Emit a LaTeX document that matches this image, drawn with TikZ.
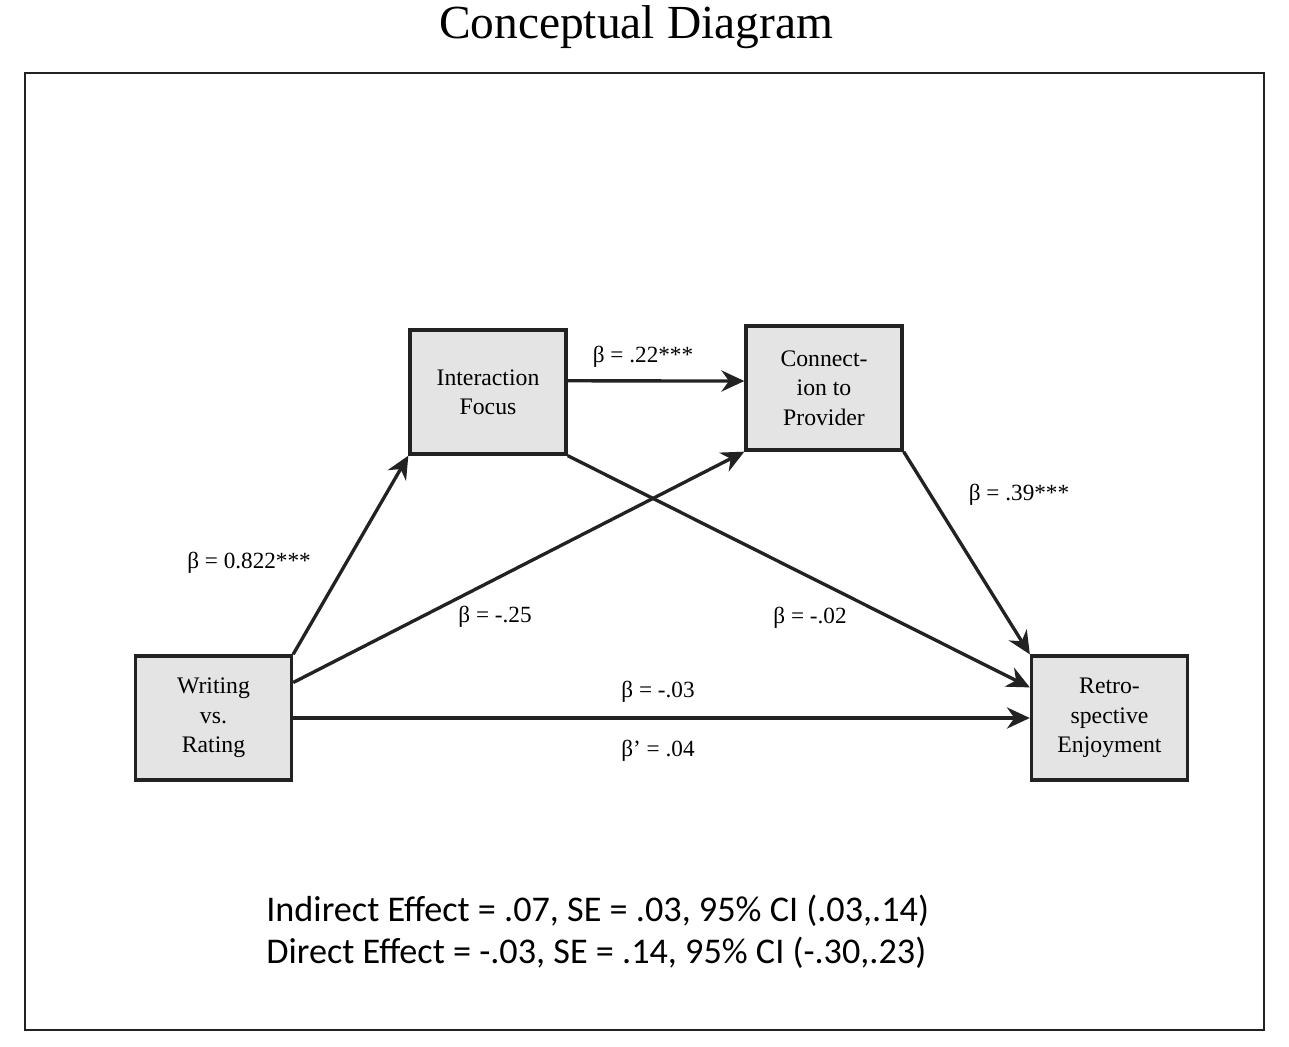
\documentclass[tikz,border=0pt]{standalone}
\usepackage{fontspec}
\setmainfont{Liberation Serif}
\newfontfamily\calfont{Carlito}
\usepackage{xcolor}
\usepackage{tikz}
\usetikzlibrary{positioning,arrows.meta}
\definecolor{boxgray}{HTML}{E4E4E4}
\definecolor{inkdark}{HTML}{222222}

\begin{document}
\begin{tikzpicture}[
  varbox/.style={
    draw=inkdark,
    line width=1.9pt,
    fill=boxgray,
    rectangle,
    align=center,
    minimum width=3.12cm,
    minimum height=2.48cm,
    inner sep=0pt,
    font=\fontsize{13.5}{16.7}\selectfont
  },
  coef/.style={font=\fontsize{13.2}{15}\selectfont, inner sep=0pt},
  path/.style={-{Stealth[length=13pt,width=12pt]}, line width=1.9pt, draw=inkdark}
]

\useasboundingbox (0,0) rectangle (25.78,20.92);

\node (title) at (12.72,20.38) {\fontsize{27}{30}\selectfont Conceptual Diagram};
\draw[line width=1.1pt, inkdark] (0.5,0.32) rectangle (25.28,19.46);

\node[varbox] (ifc) at (9.76,13.08) {Interaction\\Focus};
\node[varbox] (cp) at (16.48,13.16) {Connect-\\ion to\\Provider};
\node[varbox] (wr) at (4.27,6.56) {Writing\\vs.\\Rating};
\node[varbox] (re) at (22.19,6.56) {Retro-\\spective\\Enjoyment};

\draw[path] (wr.north east) -- (ifc.south west);
\draw[path] (wr.24) -- (cp.south west);
\draw[path] (wr.east) -- (re.west);
\draw[path] (ifc.8) -- (cp.175);
\draw[path] (ifc.south east) -- (re.159);
\draw[path] (cp.south east) -- (re.north west);

\node[coef] (a1) at (4.98,9.66) {β = 0.822***};
\node[coef] (a2) at (9.9,8.58) {β = -.25};
\node[coef] (d1) at (12.86,13.78) {β = .22***};
\node[coef] (b2) at (20.38,11.02) {β = .39***};
\node[coef] (b1) at (16.2,8.56) {β = -.02};
\node[coef] (c1) at (13.16,7.08) {β = -.03};
\node[coef] (c2) at (13.16,5.9) {β’ = .04};

\node[anchor=west, inner sep=0pt, font=\calfont\fontsize{20.6}{24}\selectfont] (ind) at (5.32,2.7)
{Indirect Effect = .07, SE = .03, 95\% CI (.03,.14)};
\node[anchor=west, inner sep=0pt, font=\calfont\fontsize{20.6}{24}\selectfont] (dir) at (5.32,1.86)
{Direct Effect = -.03, SE = .14, 95\% CI (-.30,.23)};

\end{tikzpicture}
\end{document}
